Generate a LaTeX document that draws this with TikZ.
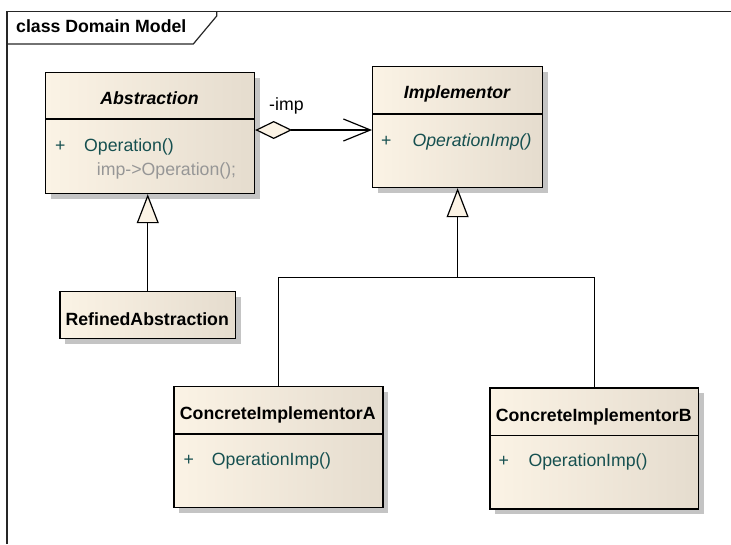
\documentclass[tikz,border=0pt]{standalone}
\usepackage{fontspec}
\setmainfont{Liberation Sans}
\usetikzlibrary{arrows.meta,shadows}
\definecolor{boxL}{RGB}{251,243,229}
\definecolor{boxR}{RGB}{229,220,206}
\definecolor{shadowgray}{RGB}{196,196,196}
\definecolor{opteal}{RGB}{22,80,80}
\definecolor{codegray}{RGB}{150,150,150}

\begin{document}
\begin{tikzpicture}[x=1pt,y=-1pt,
  txt/.style={font=\fontsize{17.7}{21}\selectfont, inner sep=0pt},
  classname/.style={txt, font=\fontsize{17.7}{21}\selectfont\bfseries, anchor=base},
  absname/.style={classname, font=\fontsize{17.7}{21}\selectfont\bfseries\itshape},
  vis/.style={txt, text=opteal, anchor=base west},
  op/.style={txt, text=opteal, anchor=base west},
  absop/.style={op, font=\fontsize{17.7}{21}\selectfont\itshape},
  code/.style={txt, text=codegray, anchor=base west},
  classbox/.style={draw=black, line width=1.2pt, left color=boxL, right color=boxR,
    drop shadow={shadow xshift=5pt, shadow yshift=-5pt, fill=shadowgray, opacity=1},
    anchor=north west, inner sep=0pt},
  sep/.style={line width=1.2pt},
  frameline/.style={line width=1.2pt, draw=black!85},
  assoc/.style={line width=1.2pt,
    {Diamond[fill=boxL, length=37pt, width=18pt]}-{Straight Barb[length=27pt, width=22pt]}},
  gen/.style={line width=1.2pt, -{Triangle[fill=boxL, length=29pt, width=22pt]}},
  link/.style={line width=1.2pt}
]
\useasboundingbox (0,0) rectangle (731,544);

% diagram frame and its title tab
\draw[frameline] (7,544) -- (7,11.3) -- (731,11.3);
\draw[frameline] (7,44) -- (193.3,44) -- (216.7,16) -- (216.7,11.3);
\node[txt, font=\fontsize{17.7}{21}\selectfont\bfseries, anchor=base west] (title) at (16,32.3) {class Domain Model};

% class boxes
\node[classbox, minimum width=209pt, minimum height=121pt] (abs) at (45,72) {};
\node[classbox, minimum width=170pt, minimum height=121pt] (imp) at (372,66) {};
\node[classbox, minimum width=175.7pt, minimum height=47pt] (ref) at (59.3,291) {};
\node[classbox, minimum width=209pt, minimum height=121pt] (cA) at (173.3,386) {};
\node[classbox, minimum width=208.7pt, minimum height=121pt] (cB) at (489.3,387.3) {};

% compartment separators
\draw[sep] ([yshift=-47pt]abs.north west) -- ([yshift=-47pt]abs.north east);
\draw[sep] ([yshift=-48pt]imp.north west) -- ([yshift=-48pt]imp.north east);
\draw[sep] ([yshift=-48pt]cA.north west) -- ([yshift=-48pt]cA.north east);
\draw[sep] ([yshift=-48.4pt]cB.north west) -- ([yshift=-48.4pt]cB.north east);

% Abstraction
\node[absname] (absN) at (149.5,104) {Abstraction};
\node[vis] (absV) at (55,151.8) {+};
\node[op] (absOp) at (84,151.8) {Operation()};
\node[code] (absCode) at (96.7,175.7) {imp->Operation();};

% Implementor
\node[absname] (impN) at (457,98.3) {Implementor};
\node[vis] (impV) at (381,146.7) {+};
\node[absop] (impOp) at (412.3,146.7) {OperationImp()};

% RefinedAbstraction
\node[classname] (refN) at (147.2,325) {RefinedAbstraction};

% ConcreteImplementorA
\node[classname] (cAN) at (277.8,419.3) {ConcreteImplementorA};
\node[vis] (cAV) at (183.3,465) {+};
\node[op] (cAOp) at (211.7,465) {OperationImp()};

% ConcreteImplementorB
\node[classname] (cBN) at (593.7,421.7) {ConcreteImplementorB};
\node[vis] (cBV) at (498.3,466.7) {+};
\node[op] (cBOp) at (528.3,466.7) {OperationImp()};

% association Abstraction -> Implementor
\coordinate (assocY) at (0,130);
\draw[assoc] (abs.east |- assocY) -- (imp.west |- assocY);
\node[txt, anchor=base west] (impRole) at (269,110) {-imp};

% generalizations
\coordinate (bus) at (0,277.5);
\draw[gen] (ref.north) -- (ref.north |- abs.south);
\draw[gen] (cA.north) |- (imp.south |- bus) -- (imp.south);
\draw[link] (cB.north) |- (imp.south |- bus);
\end{tikzpicture}
\end{document}
